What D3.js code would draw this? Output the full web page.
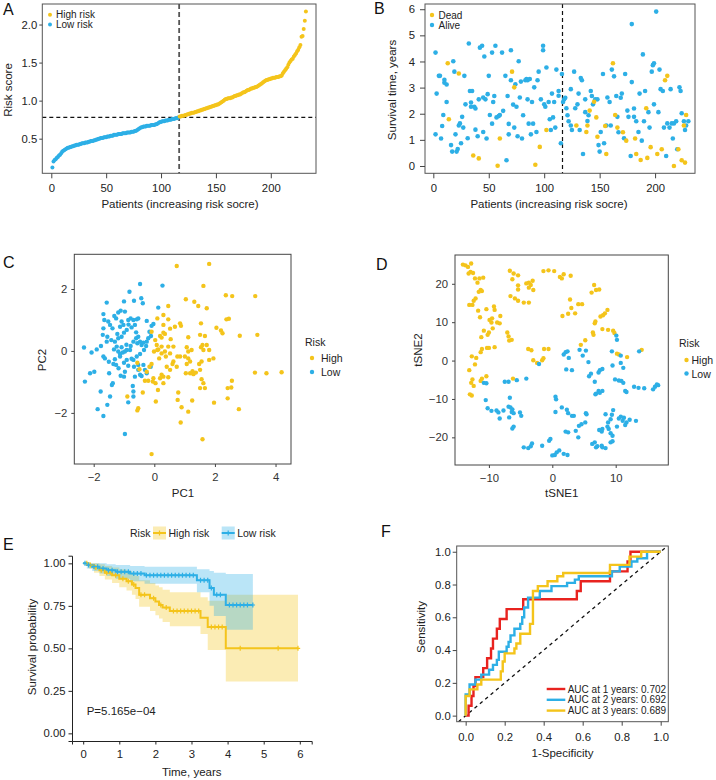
<!DOCTYPE html>
<html><head><meta charset="utf-8">
<script src="https://cdn.jsdelivr.net/npm/d3@7"></script>
<style>
body{margin:0;background:#fff}
svg{display:block}
text{font-family:"Liberation Sans",Arial,Helvetica,sans-serif}
</style>
</head><body>
<svg id="c" width="716" height="780"></svg>
<script>
// ---------------- DATA ----------------
const YEL = "#F4C41B", BLU = "#2DAFE6", RED = "#E8231F";

// Panel A: sorted risk scores (patients 1..232)
const riskLow = [0.12,0.20,0.22,0.23,0.25,0.26,0.28,0.29,0.31,0.33,
0.34,0.35,0.36,0.37,0.38,0.38,0.39,0.39,0.40,0.40,
0.41,0.41,0.42,0.42,0.42,0.43,0.43,0.44,0.44,0.44,
0.45,0.45,0.45,0.46,0.46,0.47,0.47,0.47,0.48,0.48,
0.49,0.49,0.50,0.50,0.51,0.51,0.51,0.52,0.52,0.52,
0.53,0.53,0.53,0.54,0.54,0.54,0.55,0.55,0.55,0.55,
0.56,0.56,0.56,0.56,0.57,0.57,0.57,0.57,0.58,0.58,
0.58,0.58,0.59,0.59,0.59,0.60,0.60,0.61,0.62,0.63,
0.64,0.65,0.65,0.66,0.66,0.66,0.67,0.67,0.67,0.67,
0.68,0.68,0.68,0.68,0.69,0.69,0.70,0.71,0.72,0.72,
0.73,0.73,0.73,0.74,0.74,0.74,0.75,0.75,0.75,0.76,
0.76,0.76,0.77,0.77,0.77,0.78];
const riskHigh = [0.79,0.79,0.80,0.80,0.80,0.81,0.81,0.82,0.82,0.83,
0.83,0.84,0.84,0.84,0.85,0.85,0.86,0.86,0.87,0.87,
0.88,0.88,0.89,0.89,0.90,0.90,0.91,0.91,0.92,0.92,
0.93,0.93,0.94,0.94,0.95,0.95,0.96,0.97,0.98,0.99,
1.00,1.01,1.02,1.02,1.03,1.03,1.03,1.04,1.04,1.05,
1.06,1.06,1.07,1.07,1.08,1.08,1.09,1.10,1.11,1.11,
1.12,1.13,1.14,1.14,1.15,1.16,1.16,1.17,1.17,1.18,
1.18,1.19,1.20,1.21,1.22,1.23,1.24,1.25,1.26,1.27,
1.27,1.28,1.28,1.29,1.29,1.30,1.30,1.30,1.31,1.31,
1.31,1.32,1.32,1.33,1.36,1.38,1.40,1.42,1.44,1.47,
1.50,1.52,1.54,1.55,1.58,1.60,1.62,1.65,1.67,1.70,
1.73,1.84,1.85,1.94,2.05,2.17];
const riskCutoff = 0.78, riskSplit = 116.5;
const ticksA_x = [0,50,100,150,200], ticksA_y = [0.5,1.0,1.5,2.0];

// Panel B: patient index & survival time
const deadIdx  = [13,14,23,36,41,58,60,71,73,92,96,102,129,138,139,141,145,147,148,155,156,162,164,166,171,174,182,183,187,192,193,196,202,206,209,211,217,221,224,226,227,228];
const deadTime = [3.93,1.79,3.54,0.40,0.29,0.01,1.05,3.61,3.01,0.05,0.73,1.38,1.55,1.30,1.55,2.12,2.46,1.86,1.12,1.53,0.46,3.93,1.95,1.47,1.29,0.97,1.05,0.46,0.23,2.21,0.31,0.72,0.46,0.64,3.28,3.45,0.00,0.64,0.22,1.55,0.13,1.95];
const aliveIdx = [2,2,3,5,6,7,8,9,10,10,12,12,16,17,18,19,20,21,22,23,24,25,26,27,28,29,31,32,33,34,34,35,37,38,38,40,41,42,44,45,45,46,47,48,49,50,51,53,53,54,55,56,57,59,60,62,63,65,66,67,68,68,70,70,72,73,74,75,76,77,78,79,80,81,83,84,85,85,86,87,88,89,90,91,93,94,95,97,99,99,100,101,102,104,105,106,107,108,109,110,111,113,113,115,116,117,118,119,120,121,122,124,124,125,127,128,130,131,132,133,134,135,137,137,139,140,142,143,144,146,148,149,150,151,153,154,156,157,159,160,161,163,165,166,167,169,170,172,173,175,176,178,179,179,181,181,183,185,186,188,189,190,191,194,195,197,198,199,199,201,203,204,205,207,208,210,211,213,214,215,216,217,219,220,222,223,224,226,227,228,230];
const aliveTime = [1.21,4.34,2.77,3.45,3.45,1.05,1.53,1.95,3.30,3.19,3.12,2.45,0.80,0.55,4.01,3.61,1.21,0.55,0.65,1.55,1.63,0.87,1.88,1.47,3.45,2.36,1.06,4.69,2.87,2.27,2.43,2.87,2.27,1.39,2.20,1.14,2.55,4.53,4.60,1.30,2.62,4.19,2.55,1.05,2.75,3.45,1.95,1.62,4.34,2.45,2.68,4.60,1.86,1.91,1.95,4.34,2.11,3.45,0.22,2.68,1.61,1.21,3.28,4.43,2.35,1.47,3.13,2.27,1.14,4.01,2.62,3.23,1.05,1.94,3.28,3.33,3.28,2.55,1.62,3.33,1.21,2.45,1.62,3.01,1.30,3.28,3.61,2.55,4.43,4.60,2.36,2.27,3.77,2.45,1.79,1.38,2.77,1.86,2.45,1.47,3.69,2.69,2.87,0.87,3.52,2.45,2.55,2.61,2.21,1.94,1.71,1.55,2.94,1.38,3.61,2.21,2.36,2.77,1.38,3.37,3.28,0.46,2.06,2.55,1.72,1.94,2.87,2.68,2.36,2.55,2.55,0.80,0.55,1.30,3.52,0.87,1.55,2.62,2.45,1.55,3.69,3.43,2.68,1.88,1.29,2.61,2.77,1.06,3.52,2.12,1.88,0.38,5.43,3.21,1.88,2.20,1.71,1.30,2.77,0.97,4.27,1.71,2.87,2.06,1.47,3.61,3.86,2.36,3.93,5.91,2.06,3.69,2.94,2.87,1.47,0.38,1.63,1.47,2.94,1.63,1.05,1.63,1.71,0.64,3.01,2.87,2.02,1.71,1.38,1.55,1.71];
const ticksB_y = [0,1,2,3,4,5,6];

// Panel C: PCA
const pcaLow = [[-2.32,0.11],[-2.07,-0.05],[-1.90,0.05],[-2.12,-0.72],[-1.98,-0.67],[-2.29,-0.99],[-1.77,-1.31],[-1.87,-1.88],[-1.68,-2.10],[-1.55,-1.74],[-1.46,-1.47],[-1.40,-1.10],[-1.37,-1.04],[-1.49,-0.72],[-1.68,-0.18],[-1.63,-0.24],[-1.76,0.16],[-1.57,0.30],[-1.55,0.46],[-1.65,1.00],[-1.68,1.19],[-1.57,1.56],[-1.52,0.95],[-1.46,0.84],[-1.38,0.73],[-1.68,0.73],[-1.70,0.52],[-1.32,1.13],[-1.26,1.05],[-1.19,1.24],[-1.11,1.30],[-0.97,1.27],[-1.08,0.95],[-1.02,0.84],[-1.13,0.78],[-0.86,1.00],[-0.78,1.05],[-0.69,1.00],[-0.58,1.02],[-0.53,1.05],[-0.64,0.84],[-0.75,0.76],[-0.91,0.68],[-1.00,0.59],[-1.08,0.46],[-1.19,0.41],[-1.30,0.30],[-1.24,0.14],[-1.33,0.05],[-1.19,-0.02],[-1.13,-0.10],[-1.04,-0.05],[-0.97,-0.02],[-1.13,-0.18],[-1.30,-0.27],[-1.35,-0.42],[-1.26,-0.45],[-1.18,-0.56],[-1.00,-0.38],[-0.91,-0.29],[-0.80,0.03],[-0.78,0.16],[-0.69,0.30],[-0.60,0.41],[-0.53,0.46],[-0.56,0.25],[-0.47,0.30],[-0.42,0.19],[-0.36,0.27],[-0.25,0.30],[-0.20,0.41],[-0.27,0.16],[-0.34,0.03],[-0.47,-0.10],[-0.58,-0.18],[-0.69,-0.29],[-0.67,-0.51],[-0.53,-0.61],[-0.47,-0.77],[-0.64,-0.83],[-0.71,-1.13],[-0.69,-1.31],[-0.69,-1.47],[-0.86,-1.66],[-0.97,-2.68],[-0.82,1.91],[-0.67,1.62],[-0.47,2.16],[-0.43,1.70],[-0.38,1.54],[-0.25,0.97],[-0.09,0.81],[-0.03,0.87],[-0.11,0.48],[-0.16,0.62],[0.13,1.40],[0.27,2.11],[-0.12,-0.51],[-0.25,-0.72],[-0.42,-0.81],[-0.31,-0.61],[-0.36,-0.45],[-0.53,-0.45],[-0.86,-0.48],[-1.00,-0.83],[-1.11,-0.80],[-0.97,-0.67],[-1.08,0.12],[-0.91,0.03],[-1.42,0.35],[-1.22,0.55],[-0.85,0.85],[-0.92,0.20],[-1.50,-0.35],[-0.60,0.60],[-1.00,1.60],[-0.75,-0.25]];
const pcaHigh = [[0.74,2.74],[1.81,2.81],[1.62,2.10],[1.04,1.67],[1.32,1.59],[1.45,1.45],[1.73,1.38],[0.46,1.45],[0.30,1.16],[0.10,1.05],[0.46,1.02],[0.85,0.89],[0.88,0.81],[0.68,0.78],[0.52,0.72],[0.30,0.59],[0.19,0.48],[0.24,0.43],[0.35,0.55],[0.54,0.38],[0.03,0.35],[-0.09,0.62],[0.85,-0.18],[1.12,0.44],[1.54,0.89],[1.51,0.52],[1.67,0.48],[1.73,0.19],[1.59,0.19],[1.54,0.12],[1.62,0.03],[1.81,0.03],[2.05,0.75],[2.20,0.66],[2.25,0.57],[2.38,1.02],[2.46,1.04],[2.36,1.80],[2.57,1.77],[2.82,0.49],[3.40,0.52],[3.33,1.77],[3.32,-0.70],[3.70,-0.72],[4.20,-0.69],[0.08,0.19],[0.13,0.05],[0.24,0.14],[0.35,-0.02],[0.46,0.14],[0.52,-0.08],[0.38,-0.18],[0.24,-0.08],[0.16,-0.24],[0.10,0.03],[-0.01,-0.02],[-0.09,-0.42],[-0.16,-0.51],[-0.25,-0.67],[-0.31,-0.96],[-0.20,-0.96],[-0.05,-0.99],[0.04,-1.04],[0.12,-1.26],[0.24,-0.77],[0.30,-0.83],[0.30,-1.04],[0.19,-0.88],[0.41,-0.51],[0.52,-0.61],[0.46,-0.85],[0.60,-0.42],[0.63,-0.34],[0.74,-0.51],[0.76,-0.18],[1.01,-0.18],[1.04,-0.72],[1.07,-0.42],[1.12,-0.24],[1.18,-0.34],[1.18,-0.72],[1.26,-0.65],[1.29,-0.75],[1.48,-0.42],[1.56,-0.34],[1.51,-0.61],[1.56,-0.91],[1.62,-1.04],[1.67,-1.20],[1.51,-1.20],[1.25,-1.60],[1.12,-1.96],[0.90,-1.82],[0.87,-2.31],[0.77,-1.58],[0.79,-1.34],[0.05,-1.63],[-0.53,-1.85],[-0.56,-1.92],[-0.38,-1.34],[-0.89,-1.47],[-0.49,-0.59],[-0.56,-0.38],[-0.09,-3.33],[1.59,-2.85],[1.97,-1.67],[2.42,-1.53],[2.42,-1.20],[2.54,-1.18],[2.56,-0.96],[2.79,-1.88],[1.07,0.12],[1.12,-0.02],[1.23,0.03],[1.37,-0.70],[1.81,-0.29],[1.95,-0.24],[0.63,0.14],[-0.03,-0.88],[0.30,0.84]];
const ticksC_x = [-2,0,2,4], ticksC_y = [-2,0,2];

// Panel D: tSNE
const tsneHigh = [[-14.1,25.0],[-13.7,24.8],[-13.3,24.4],[-12.8,25.3],[-12.9,23.1],[-13.2,22.7],[-12.5,22.8],[-12.2,21.4],[-11.5,21.4],[-10.9,21.6],[-11.8,20.3],[-11.3,18.4],[-11.6,17.9],[-11.1,18.1],[-12.1,16.2],[-12.4,15.6],[-13.1,14.5],[-12.6,14.5],[-11.7,13.0],[-11.4,11.3],[-10.4,13.4],[-9.2,14.1],[-9.1,13.2],[-9.5,11.0],[-9.9,10.6],[-9.6,9.9],[-8.7,9.9],[-8.3,9.7],[-8.2,11.6],[-10.8,7.8],[-11.2,6.1],[-10.2,6.7],[-10.0,7.3],[-9.4,8.4],[-11.1,3.0],[-11.3,2.2],[-10.3,3.3],[-9.1,3.5],[-10.0,3.3],[-12.7,1.1],[-12.0,0.7],[-12.2,-1.0],[-13.1,-2.5],[-12.8,-5.8],[-12.4,-6.6],[-13.0,-8.8],[-12.7,-9.1],[-12.6,-4.9],[-10.4,-4.1],[-11.1,-4.7],[-11.3,-5.3],[-7.1,7.3],[-6.9,6.3],[-6.4,5.4],[-6.8,5.2],[-6.7,23.4],[-6.3,21.2],[-6.1,22.7],[-5.4,22.2],[-5.4,19.6],[-5.4,18.5],[-6.6,16.8],[-5.9,16.2],[-5.4,15.6],[-4.5,15.1],[-3.7,15.1],[-4.1,20.1],[-3.7,20.3],[-3.4,19.7],[-3.1,20.8],[-3.0,18.4],[-3.7,19.0],[-1.4,23.3],[-0.6,23.5],[0.3,23.3],[1.2,21.8],[1.5,21.4],[1.8,22.5],[2.9,22.1],[1.6,11.6],[2.5,12.2],[3.0,13.7],[3.6,12.3],[2.8,15.9],[4.1,14.7],[4.7,14.7],[6.6,19.7],[6.9,18.4],[7.4,18.5],[6.2,17.7],[4.5,4.1],[5.2,5.3],[6.5,6.7],[6.4,7.3],[6.7,9.7],[6.8,10.2],[7.6,11.5],[8.0,11.8],[8.3,12.3],[8.7,13.2],[7.9,8.2],[8.8,8.0],[9.6,7.8],[9.8,7.2],[10.2,1.8],[10.5,1.6],[11.8,0.9],[14.1,2.8],[-3.8,3.0],[-3.3,2.7],[-3.0,0.1],[-2.4,-0.6],[-1.6,0.1],[-1.4,0.6],[-1.3,3.0],[-0.6,3.0],[-6.2,-4.7]];
const tsneLow = [[-10.8,-5.8],[-10.4,-5.9],[-10.5,-10.3],[-10.2,-12.4],[-9.6,-13.1],[-8.8,-13.0],[-8.5,-13.5],[-8.3,-15.1],[-7.7,-13.0],[-6.9,-12.0],[-6.6,-12.2],[-6.3,-12.7],[-6.4,-13.4],[-6.1,-13.7],[-6.8,-14.8],[-6.1,-17.2],[-6.3,-17.7],[-6.7,-9.7],[-6.9,-5.5],[-7.5,-5.5],[-5.6,-5.1],[-4.1,-4.7],[-5.1,-13.5],[-4.9,-14.4],[-4.5,-22.6],[-3.8,-22.8],[-3.4,-22.3],[-3.2,-21.6],[-1.6,-22.2],[-0.5,-20.9],[-0.3,-20.4],[0.0,-24.7],[0.4,-24.6],[0.7,-23.9],[1.1,-23.4],[1.8,-24.3],[2.4,-24.6],[0.5,-13.4],[0.6,-10.1],[0.5,-9.4],[1.5,-12.2],[2.3,-12.8],[2.5,-13.7],[3.1,-14.4],[2.1,-18.5],[2.5,-18.7],[3.4,-14.4],[3.7,-18.3],[4.1,-20.0],[4.2,-17.0],[4.6,-16.6],[5.2,-16.1],[5.3,-13.7],[5.4,-14.0],[1.8,1.6],[2.1,2.2],[2.4,2.4],[2.6,0.7],[2.2,-2.3],[3.1,-2.5],[4.3,2.8],[4.8,1.3],[5.3,2.6],[5.7,-0.4],[5.8,-4.1],[6.1,-3.4],[6.7,-5.5],[6.8,-8.8],[6.9,-8.6],[7.3,-7.9],[7.5,-8.4],[7.9,-7.9],[7.3,-3.1],[7.5,-2.5],[7.9,-2.2],[9.5,-1.3],[9.4,2.4],[10.1,6.5],[10.2,5.4],[10.8,1.3],[10.8,-0.6],[11.2,-1.9],[9.9,-4.9],[10.5,-5.2],[10.9,-5.3],[11.2,-5.8],[11.5,-7.9],[11.7,-8.2],[12.9,-6.8],[13.6,-7.1],[14.5,-7.2],[15.9,-7.5],[16.2,-6.8],[16.5,-6.2],[16.7,-6.4],[10.8,-14.6],[11.3,-14.9],[10.5,-15.1],[11.1,-15.7],[11.7,-16.1],[11.5,-16.8],[12.2,-15.4],[13.2,-15.7],[9.2,-15.3],[9.4,-14.1],[9.6,-12.9],[8.4,-14.0],[8.8,-16.1],[8.7,-17.2],[7.9,-17.8],[7.4,-18.1],[7.8,-18.5],[8.9,-17.8],[9.2,-18.9],[9.5,-19.6],[9.2,-21.3],[9.5,-21.0],[6.7,-21.3],[6.3,-21.7],[6.9,-22.6],[7.8,-22.2],[7.9,-22.6],[8.4,-22.8],[7.1,-22.3],[13.7,2.4],[10.2,-17.2],[-2.1,-0.9]];
const ticksD_x = [-10,0,10], ticksD_y = [-20,-10,0,10,20];

// Panel E: Kaplan-Meier
const kmHighTime  = [0,0.15,0.3,0.45,0.6,0.8,1.0,1.2,1.35,1.45,1.55,1.85,2.0,2.1,2.2,2.4,3.25,3.45,3.95,5.95];
const kmHighSurv  = [1.0,0.99,0.975,0.96,0.945,0.93,0.91,0.895,0.875,0.855,0.815,0.795,0.775,0.755,0.74,0.72,0.68,0.625,0.50,0.50];
const kmHighUpper = [1.0,1.0,1.0,0.995,0.985,0.975,0.965,0.955,0.94,0.925,0.90,0.885,0.87,0.86,0.845,0.83,0.80,0.78,0.815,0.815];
const kmHighLower = [1.0,0.97,0.945,0.925,0.905,0.885,0.86,0.84,0.815,0.79,0.745,0.72,0.695,0.675,0.655,0.63,0.585,0.49,0.305,0.305];
const kmLowTime  = [0,0.1,0.25,0.45,0.65,0.9,1.3,1.7,3.15,3.5,3.62,3.95,4.7];
const kmLowSurv  = [1.0,0.99,0.98,0.97,0.96,0.95,0.94,0.93,0.90,0.855,0.815,0.755,0.755];
const kmLowUpper = [1.0,1.0,1.0,1.0,0.995,0.99,0.985,0.98,0.965,0.955,0.945,0.937,0.937];
const kmLowLower = [1.0,0.97,0.955,0.94,0.925,0.91,0.895,0.88,0.83,0.75,0.69,0.61,0.61];
const censHigh = [0.1,0.2,0.35,0.5,0.65,0.75,0.9,1.1,1.25,1.4,1.6,1.7,1.95,2.15,2.3,2.5,2.6,2.7,2.8,2.9,3.0,3.1,3.2,3.55,3.65,3.75,3.85,4.35,5.4,5.95];
const censLow = [0.05,0.15,0.3,0.4,0.55,0.7,0.8,0.95,1.05,1.15,1.25,1.4,1.5,1.6,1.75,1.85,1.95,2.05,2.15,2.25,2.35,2.45,2.55,2.65,2.75,2.85,2.95,3.05,3.25,3.35,3.45,3.55,3.7,3.8,4.05,4.15,4.25,4.35,4.45,4.55,4.7];
const pValueText = "P=5.165e\u221204";
const ticksE_x = [0,1,2,3,4,5,6], ticksE_y = [0,0.25,0.5,0.75,1.0];

// Panel F: ROC curves
const roc1FPR = [0,0.015,0.015,0.03,0.03,0.04,0.04,0.05,0.05,0.09,0.09,0.11,0.11,0.13,0.13,0.14,0.14,0.16,0.16,0.175,0.175,0.21,0.21,0.295,0.295,0.57,0.57,0.59,0.59,0.74,0.74,0.83,0.83,0.845,0.845,1.0];
const roc1TPR = [0,0,0.06,0.06,0.12,0.12,0.18,0.18,0.235,0.235,0.29,0.29,0.35,0.35,0.41,0.41,0.47,0.47,0.53,0.53,0.59,0.59,0.65,0.65,0.71,0.71,0.76,0.76,0.82,0.82,0.88,0.88,0.94,0.94,1.0,1.0];
const roc2FPR = [0,0,0.02,0.02,0.05,0.05,0.08,0.08,0.12,0.12,0.14,0.14,0.16,0.16,0.17,0.17,0.21,0.21,0.22,0.22,0.23,0.23,0.25,0.25,0.28,0.28,0.29,0.29,0.30,0.30,0.32,0.32,0.38,0.38,0.44,0.44,0.52,0.52,0.56,0.56,0.58,0.58,0.75,0.75,0.79,0.79,0.85,0.85,0.88,0.88,0.93,0.93,1.0];
const roc2TPR = [0,0.13,0.13,0.19,0.19,0.22,0.22,0.25,0.25,0.28,0.28,0.31,0.31,0.34,0.34,0.39,0.39,0.42,0.42,0.45,0.45,0.49,0.49,0.53,0.53,0.56,0.56,0.60,0.60,0.66,0.66,0.72,0.72,0.76,0.76,0.79,0.79,0.81,0.81,0.83,0.83,0.85,0.85,0.88,0.88,0.91,0.91,0.94,0.94,0.96,0.96,1.0,1.0];
const roc3FPR = [0,0,0.02,0.02,0.06,0.06,0.08,0.08,0.18,0.18,0.19,0.19,0.20,0.20,0.25,0.25,0.26,0.26,0.28,0.28,0.33,0.33,0.345,0.345,0.37,0.37,0.42,0.42,0.47,0.47,0.50,0.50,0.74,0.74,0.84,0.84,0.90,0.90,1.0];
const roc3TPR = [0,0.12,0.12,0.16,0.16,0.19,0.19,0.22,0.22,0.27,0.27,0.33,0.33,0.38,0.38,0.41,0.41,0.44,0.44,0.50,0.50,0.56,0.56,0.76,0.76,0.79,0.79,0.82,0.82,0.85,0.85,0.87,0.87,0.92,0.92,0.97,0.97,1.0,1.0];
const rocLabels = ["AUC at 1 years: 0.702","AUC at 2 years: 0.692","AUC at 3 years: 0.689"];
const ticksF = [0,0.2,0.4,0.6,0.8,1.0];

// ---------------- DRAWING ----------------
const svg = d3.select("#c");
const FF = '"Liberation Sans",Arial,Helvetica,sans-serif';
const TFS = 11.3, LFS = 11.5;
const fInt = d3.format("d"), f1 = d3.format(".1f"), f2 = d3.format(".2f");

function frame(x0,y0,x1,y1,color){
  svg.append("rect").attr("x",x0).attr("y",y0).attr("width",x1-x0).attr("height",y1-y0)
    .attr("fill","none").attr("stroke",color||"#555").attr("stroke-width",1);
}
function axis(gen, tx, ty, o){
  o = o||{};
  const g = svg.append("g").attr("transform",`translate(${tx},${ty})`).call(gen)
    .attr("font-family",FF).attr("font-size",o.fs||TFS);
  if(!o.keepDomain) g.select(".domain").remove(); else g.select(".domain").attr("stroke",o.lc||"#222");
  g.selectAll(".tick line").attr("stroke",o.lc||"#444");
  g.selectAll(".tick text").attr("fill",o.tc||"#222");
  return g;
}
function label(x,y,txt,o){
  o=o||{};
  const t = svg.append("text").attr("x",x).attr("y",y).text(txt)
    .attr("font-size",o.fs||LFS).attr("fill",o.fill||"#222")
    .attr("text-anchor",o.anchor||"middle").attr("dominant-baseline",o.base||"central");
  if(o.rot) t.attr("transform",`rotate(${o.rot},${x},${y})`);
  return t;
}
function panelLetter(x,y,l){ svg.append("text").attr("x",x).attr("y",y).text(l).attr("font-size",16).attr("fill","#111"); }

// ===== Panel A =====
{
  const L=42.3,R=316,T=4,B=173.3;
  const x=d3.scaleLinear().domain([-8.2,241.2]).range([L,R]);
  const y=d3.scaleLinear().domain([0.045,2.27]).range([B,T]);
  const risk = riskLow.concat(riskHigh).map((v,i)=>({i:i+1,v,hi:i>=riskLow.length}));
  svg.append("line").attr("x1",L).attr("x2",R).attr("y1",y(riskCutoff)).attr("y2",y(riskCutoff))
    .attr("stroke","#111").attr("stroke-width",1.2).attr("stroke-dasharray","4,3");
  svg.append("line").attr("x1",x(riskSplit)).attr("x2",x(riskSplit)).attr("y1",T).attr("y2",B)
    .attr("stroke","#555").attr("stroke-width",1.8).attr("stroke-dasharray","5,3");
  svg.append("g").selectAll("circle").data(risk).join("circle")
    .attr("cx",d=>x(d.i)).attr("cy",d=>y(d.v)).attr("r",2).attr("fill",d=>d.hi?YEL:BLU);
  frame(L,T,R,B);
  axis(d3.axisBottom(x).tickValues(ticksA_x).tickFormat(fInt).tickSize(5).tickPadding(6),0,B);
  axis(d3.axisLeft(y).tickValues(ticksA_y).tickFormat(f1).tickSize(3).tickPadding(2),L,0);
  label(180,204,"Patients (increasing risk socre)");
  label(7.5,90,"Risk score",{rot:-90});
  [["High risk",YEL],["Low risk",BLU]].forEach((d,k)=>{
    svg.append("circle").attr("cx",50).attr("cy",14.7+k*9.8).attr("r",2).attr("fill",d[1]);
    label(56,14.7+k*9.8,d[0],{anchor:"start",fs:10});
  });
  panelLetter(3,15,"A");
}

// ===== Panel B =====
{
  const L=425,R=695,T=4,B=173.3;
  const x=d3.scaleLinear().domain([-7.5,236]).range([L,R]);
  const y=d3.scaleLinear().domain([-0.28,6.2]).range([B,T]);
  svg.append("line").attr("x1",x(riskSplit)).attr("x2",x(riskSplit)).attr("y1",T).attr("y2",B)
    .attr("stroke","#111").attr("stroke-width",1.2).attr("stroke-dasharray","4,3");
  const pts = aliveIdx.map((d,k)=>({i:d,t:aliveTime[k],c:BLU})).concat(deadIdx.map((d,k)=>({i:d,t:deadTime[k],c:YEL})));
  svg.append("g").selectAll("circle").data(pts).join("circle")
    .attr("cx",d=>x(d.i)).attr("cy",d=>y(d.t)).attr("r",2.3).attr("fill",d=>d.c);
  frame(L,T,R,B);
  axis(d3.axisBottom(x).tickValues(ticksA_x).tickFormat(fInt).tickSize(5).tickPadding(6),0,B);
  axis(d3.axisLeft(y).tickValues(ticksB_y).tickFormat(fInt).tickSize(5).tickPadding(5),L,0);
  label(549,204,"Patients (increasing risk socre)");
  label(391.5,90,"Survival time, years",{rot:-90});
  [["Dead",YEL],["Alive",BLU]].forEach((d,k)=>{
    svg.append("circle").attr("cx",432).attr("cy",15+k*10).attr("r",2.2).attr("fill",d[1]);
    label(438.5,15+k*10,d[0],{anchor:"start",fs:10});
  });
  panelLetter(374,14,"B");
}

// ===== Panel C =====
{
  const L=74.3,R=291,T=254.3,B=464;
  const x=d3.scaleLinear().domain([-2.64,4.51]).range([L,R]);
  const y=d3.scaleLinear().domain([-3.65,3.12]).range([B,T]);
  const g=svg.append("g");
  g.selectAll(".l").data(pcaLow).join("circle").attr("cx",d=>x(d[0])).attr("cy",d=>y(d[1])).attr("r",2.2).attr("fill",BLU);
  g.selectAll(".h").data(pcaHigh).join("circle").attr("cx",d=>x(d[0])).attr("cy",d=>y(d[1])).attr("r",2.2).attr("fill",YEL);
  frame(L,T,R,B,"#444");
  axis(d3.axisBottom(x).tickValues(ticksC_x).tickFormat(fInt).tickSize(3).tickPadding(6),0,B,{tc:"#333"});
  axis(d3.axisLeft(y).tickValues(ticksC_y).tickFormat(fInt).tickSize(3).tickPadding(4),L,0,{tc:"#333"});
  label(183,493,"PC1");
  label(41.7,360,"PC2",{rot:-90});
  label(305,341.7,"Risk",{anchor:"start",fs:10.5});
  [["High",YEL],["Low",BLU]].forEach((d,k)=>{
    svg.append("circle").attr("cx",312).attr("cy",358+k*14).attr("r",2.2).attr("fill",d[1]);
    label(321,358+k*14,d[0],{anchor:"start",fs:10.5});
  });
  panelLetter(3,268,"C");
}

// ===== Panel D =====
{
  const L=455,R=668.3,T=255,B=465;
  const x=d3.scaleLinear().domain([-15.35,18.3]).range([L,R]);
  const y=d3.scaleLinear().domain([-27.2,27.5]).range([B,T]);
  const g=svg.append("g");
  g.selectAll(".h").data(tsneHigh).join("circle").attr("cx",d=>x(d[0])).attr("cy",d=>y(d[1])).attr("r",2.2).attr("fill",YEL);
  g.selectAll(".l").data(tsneLow).join("circle").attr("cx",d=>x(d[0])).attr("cy",d=>y(d[1])).attr("r",2.2).attr("fill",BLU);
  frame(L,T,R,B,"#444");
  axis(d3.axisBottom(x).tickValues(ticksD_x).tickFormat(fInt).tickSize(3).tickPadding(6),0,B,{tc:"#333"});
  axis(d3.axisLeft(y).tickValues(ticksD_y).tickFormat(fInt).tickSize(3).tickPadding(4),L,0,{tc:"#333"});
  label(561.7,493,"tSNE1");
  label(417.7,350,"tSNE2",{rot:-90});
  label(679,343,"Risk",{anchor:"start",fs:10.5});
  [["High",YEL],["Low",BLU]].forEach((d,k)=>{
    svg.append("circle").attr("cx",686.5).attr("cy",360+k*13.5).attr("r",2.2).attr("fill",d[1]);
    label(691.5,360+k*13.5,d[0],{anchor:"start",fs:10.5});
  });
  panelLetter(376,270,"D");
}

// ===== Panel E =====
{
  const L=72,R=311.7,T=555.7,B=741;
  const x=d3.scaleLinear().domain([-0.31,6.33]).range([L,R]);
  const y=d3.scaleLinear().domain([-0.045,1.045]).range([B,T]);
  function pack(t,s,u,l){ return t.map((d,k)=>({t:d,s:s[k],u:u[k],l:l[k]})); }
  const hi=pack(kmHighTime,kmHighSurv,kmHighUpper,kmHighLower);
  const lo=pack(kmLowTime,kmLowSurv,kmLowUpper,kmLowLower);
  const area=d3.area().curve(d3.curveStepAfter).x(d=>x(d.t)).y0(d=>y(d.l)).y1(d=>y(d.u));
  const line=d3.line().curve(d3.curveStepAfter).x(d=>x(d.t)).y(d=>y(d.s));
  svg.append("path").datum(hi).attr("d",area).attr("fill",YEL).attr("fill-opacity",0.33);
  svg.append("path").datum(lo).attr("d",area).attr("fill",BLU).attr("fill-opacity",0.33);
  svg.append("path").datum(hi).attr("d",line).attr("fill","none").attr("stroke",YEL).attr("stroke-width",2);
  svg.append("path").datum(lo).attr("d",line).attr("fill","none").attr("stroke",BLU).attr("stroke-width",2);
  function survAt(tt,arr,s){ const k=d3.bisectRight(tt,arr)-1; return s[Math.max(0,k)]; }
  const cens=(times,T,S,col)=>svg.append("g").selectAll("path").data(times).join("path")
    .attr("d",d=>{const cx=x(d),cy=y(survAt(T,d,S));return `M${cx-2.2},${cy}H${cx+2.2}M${cx},${cy-2.5}V${cy+2.5}`;})
    .attr("stroke",col).attr("stroke-width",1.2).attr("fill","none");
  cens(censHigh,kmHighTime,kmHighSurv,YEL);
  cens(censLow,kmLowTime,kmLowSurv,BLU);
  axis(d3.axisBottom(x).tickValues(ticksE_x).tickFormat(fInt).tickSize(3.5).tickPadding(5),0,B,{keepDomain:true,lc:"#222"});
  axis(d3.axisLeft(y).tickValues(ticksE_y).tickFormat(f2).tickSize(3.5).tickPadding(3),L,0,{keepDomain:true,lc:"#222"});
  label(86.7,710.7,pValueText,{anchor:"start",fs:11.5});
  label(191.7,771.7,"Time, years");
  label(31.7,647,"Survival probability",{rot:-90});
  // legend
  label(130,533,"Risk",{anchor:"start",fs:10.5});
  [[153,"High risk",YEL],[221.7,"Low risk",BLU]].forEach(d=>{
    svg.append("rect").attr("x",d[0]).attr("y",526.5).attr("width",13).attr("height",13).attr("fill",d[2]).attr("fill-opacity",0.33);
    svg.append("line").attr("x1",d[0]).attr("x2",d[0]+13).attr("y1",533).attr("y2",533).attr("stroke",d[2]).attr("stroke-width",2);
    svg.append("line").attr("x1",d[0]+6.5).attr("x2",d[0]+6.5).attr("y1",530.5).attr("y2",535.5).attr("stroke",d[2]).attr("stroke-width",1.2);
    label(d[0]+15.5,533,d[1],{anchor:"start",fs:10.5});
  });
  panelLetter(3,550,"E");
}

// ===== Panel F =====
{
  const L=456.7,R=668.3,T=546,B=721.7;
  const x=d3.scaleLinear().domain([-0.046,1.039]).range([L,R]);
  const y=d3.scaleLinear().domain([-0.037,1.035]).range([B,T]);
  svg.append("clipPath").attr("id","fclip").append("rect").attr("x",L).attr("y",T).attr("width",R-L).attr("height",B-T);
  svg.append("line").attr("x1",x(-0.037)).attr("y1",y(-0.037)).attr("x2",x(1.035)).attr("y2",y(1.035))
    .attr("stroke","#111").attr("stroke-width",1.3).attr("stroke-dasharray","3.5,3.5").attr("clip-path","url(#fclip)");
  const line=d3.line().x(d=>x(d[0])).y(d=>y(d[1]));
  const curves=[[roc1FPR,roc1TPR,RED],[roc2FPR,roc2TPR,BLU],[roc3FPR,roc3TPR,YEL]];
  curves.forEach(c=>{
    svg.append("path").datum(c[0].map((v,k)=>[v,c[1][k]])).attr("d",line)
      .attr("fill","none").attr("stroke",c[2]).attr("stroke-width",2.4).attr("stroke-linejoin","miter");
  });
  frame(L,T,R,B,"#555");
  axis(d3.axisBottom(x).tickValues(ticksF).tickFormat(f1).tickSize(4).tickPadding(7),0,B);
  axis(d3.axisLeft(y).tickValues(ticksF).tickFormat(f1).tickSize(4).tickPadding(2),L,0);
  label(562.5,753.3,"1-Specificity");
  label(421,627,"Sensitivity",{rot:-90});
  curves.forEach((c,k)=>{
    const yy=689+k*10.8;
    svg.append("line").attr("x1",546.7).attr("x2",565.3).attr("y1",yy).attr("y2",yy).attr("stroke",c[2]).attr("stroke-width",2.4);
    label(567.7,yy,rocLabels[k],{anchor:"start",fs:10});
  });
  panelLetter(381,537,"F");
}
</script>
</body></html>
